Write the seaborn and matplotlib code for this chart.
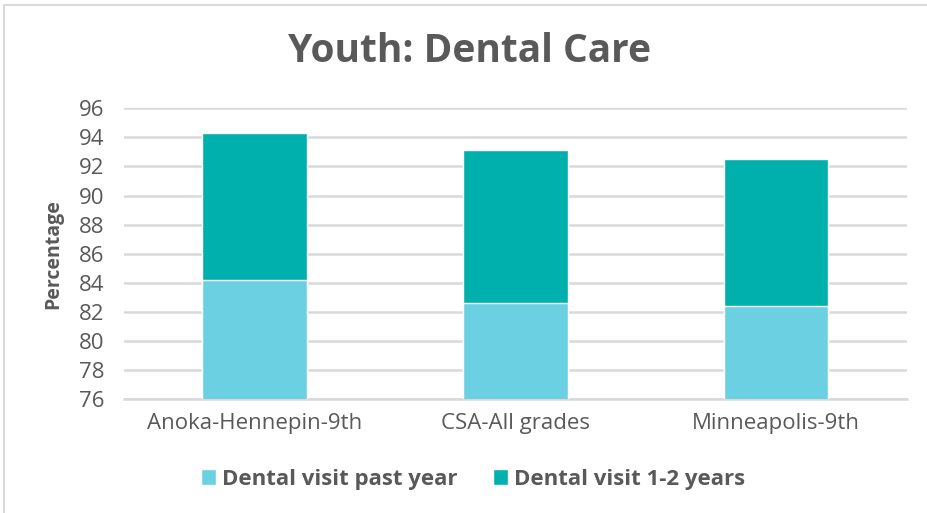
import matplotlib
matplotlib.use("Agg")
import matplotlib.pyplot as plt
import seaborn as sns
import pandas as pd
from matplotlib.patches import Patch, Rectangle

# data
categories = ["Anoka-Hennepin-9th", "CSA-All grades", "Minneapolis-9th"]
past_year = [84.2, 82.6, 82.4]
one_two_years = [10.1, 10.5, 10.1]
series_names = ["Dental visit past year", "Dental visit 1-2 years"]
y_ticks = list(range(76, 97, 2))

light_blue = "#6bd1e2"
teal = "#00b0ad"
text_grey = "#595959"
grid_grey = "#d9d9d9"

df = pd.DataFrame({"site": categories, "past": past_year, "older": one_two_years})
df["total"] = df["past"] + df["older"]

sns.set_style("white")
plt.rcParams["font.family"] = ["Open Sans", "DejaVu Sans"]

fig = plt.figure(figsize=(9.27, 5.13), dpi=100)
ax = fig.add_axes([0.134, 0.222, 0.844, 0.567])

# stacked: draw total first, then the lower segment on top of it
sns.barplot(data=df, x="site", y="total", color=teal, width=0.4, saturation=1, ax=ax, zorder=3)
sns.barplot(data=df, x="site", y="past", color=light_blue, width=0.4, saturation=1, ax=ax, zorder=4)

ax.set_ylim(76, 96)
ax.set_yticks(y_ticks)
ax.set_xlim(-0.5, 2.5)
ax.yaxis.grid(True, color=grid_grey, linewidth=1.8, zorder=0)
ax.set_axisbelow(True)
for s in ["top", "right", "left"]:
    ax.spines[s].set_visible(False)
ax.spines["bottom"].set_color(grid_grey)
ax.spines["bottom"].set_linewidth(1.8)
ax.tick_params(axis="both", length=0, labelsize=16, colors=text_grey)
ax.tick_params(axis="y", pad=14)
ax.tick_params(axis="x", pad=10)
ax.set_xlabel("")
ax.set_ylabel("Percentage", fontsize=14, fontweight="bold", color=text_grey)
ax.yaxis.set_label_coords(-0.078, 0.5)

fig.text(0.507, 0.9, "Youth: Dental Care", ha="center", va="center",
         fontsize=28, fontweight="bold", color=text_grey)

handles = [Patch(facecolor=light_blue, label=series_names[0]),
           Patch(facecolor=teal, label=series_names[1])]
leg = fig.legend(handles=handles, loc="center", bbox_to_anchor=(0.51, 0.066), ncol=2,
                 frameon=False, handlelength=0.7, handleheight=0.7, handletextpad=0.25,
                 columnspacing=1.6, prop={"size": 16, "weight": "bold"})
for t in leg.get_texts():
    t.set_color(text_grey)

# light frame around the chart area
fig.patches.append(Rectangle((0.004, -0.1), 1.2, 1.09, transform=fig.transFigure,
                             fill=False, edgecolor=grid_grey, linewidth=1.5))

fig.savefig("out.png", dpi=100)
